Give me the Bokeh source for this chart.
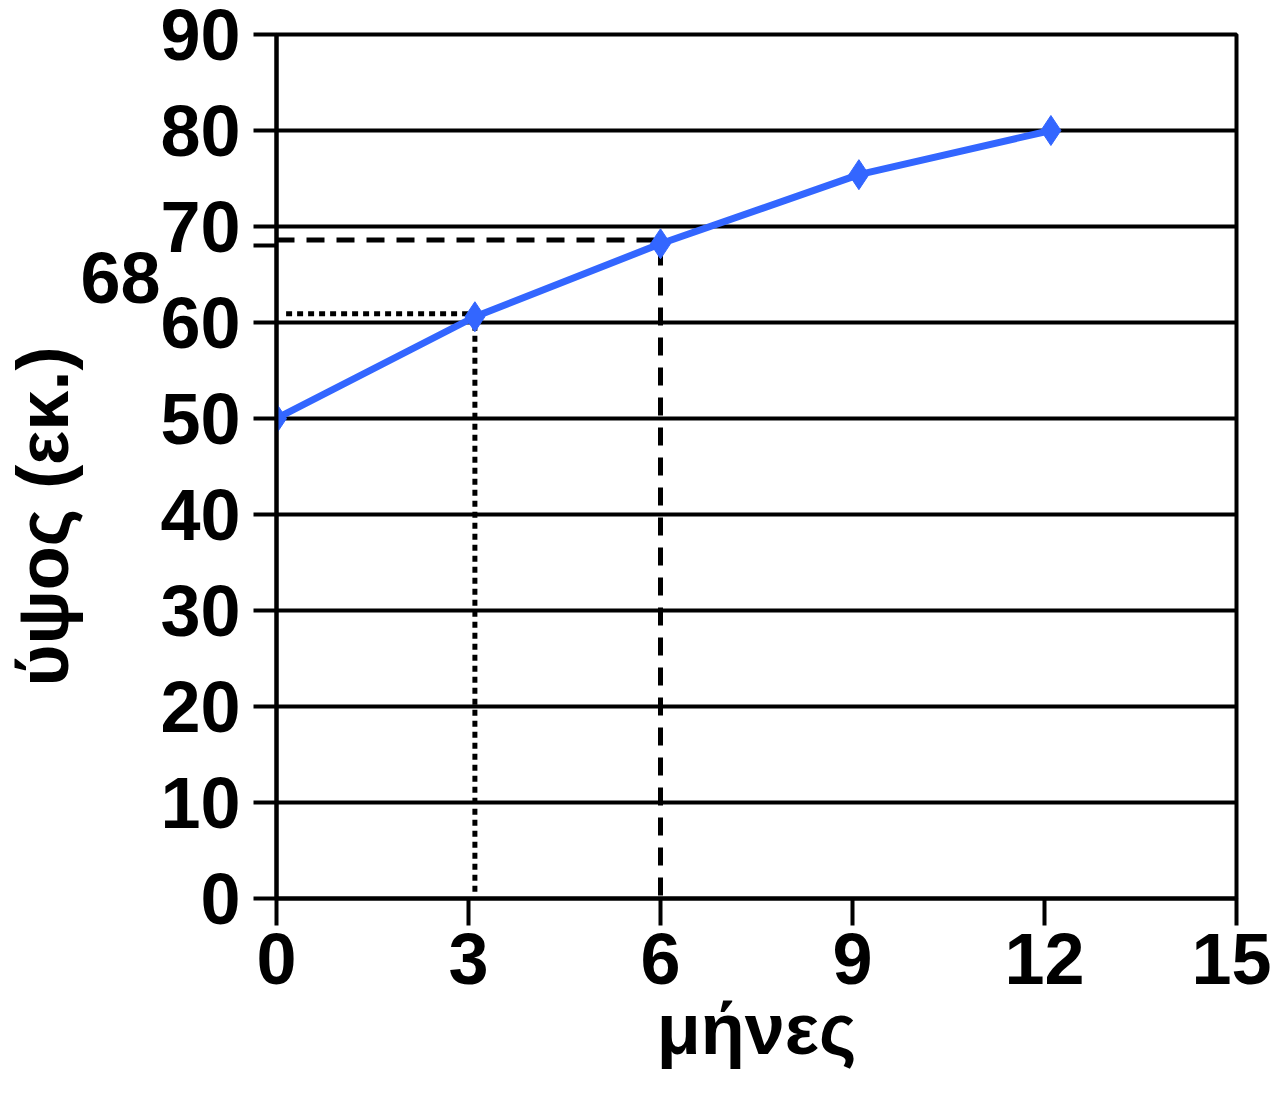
from bokeh.plotting import figure
from bokeh.models import Range1d, FixedTicker, ColumnDataSource
from bokeh.embed import file_html
from bokeh.resources import INLINE

# Data
months = [0, 3.1, 6, 9.1, 12.1]
height_cm = [50, 60.6, 68.2, 75.4, 80]
x_ticks = [0, 3, 6, 9, 12, 15]
y_ticks = [0, 10, 20, 30, 40, 50, 60, 70, 80, 90]
dash_x, dash_y = 6, 68.6      # dashed guide to 68
dot_x, dot_y = 3.1, 60.9      # dotted guide
note_value = 68               # value called out on the y axis
note_text = "68"

FONT = "Liberation Sans"
NBSP = "\u00a0"

p = figure(width=1271, height=1096,
           x_range=Range1d(0, 15), y_range=Range1d(0, 90),
           output_backend="svg", toolbar_location=None,
           min_border_left=275, min_border_top=34, min_border_right=35, min_border_bottom=198)
p.background_fill_color = "white"
p.border_fill_color = "white"
p.outline_line_color = "black"
p.outline_line_width = 4
p.outline_line_alpha = 1

p.xgrid.visible = False
p.ygrid.ticker = FixedTicker(ticks=y_ticks)
p.ygrid.grid_line_color = "black"
p.ygrid.grid_line_width = 4

p.xaxis.ticker = FixedTicker(ticks=x_ticks)
# the y axis also carries the "68" call-out, set off to the lower left of its tick
p.yaxis.ticker = FixedTicker(ticks=y_ticks + [note_value])
p.yaxis.major_label_overrides = {note_value: NBSP + "\n" + note_text + NBSP * 4}
for ax in (p.xaxis[0], p.yaxis[0]):
    ax.axis_line_color = "black"
    ax.axis_line_width = 4
    ax.major_tick_line_color = "black"
    ax.major_tick_line_width = 4
    ax.major_tick_in = 0
    ax.minor_tick_line_color = None
    ax.major_label_text_font = FONT
    ax.major_label_text_font_style = "bold"
    ax.major_label_text_font_size = "72px"
    ax.major_label_text_color = "black"
    ax.axis_label_text_font = FONT
    ax.axis_label_text_font_style = "bold"
    ax.axis_label_text_font_size = "72px"
    ax.axis_label_text_color = "black"

p.yaxis.major_label_text_line_height = 0.8
p.xaxis.major_tick_out = 27
p.yaxis.major_tick_out = 23
p.xaxis.major_label_standoff = 8
p.yaxis.major_label_standoff = 13
p.xaxis.axis_label = "μήνες"
p.yaxis.axis_label = "ύψος (εκ.)" + NBSP * 5
p.xaxis.axis_label_standoff = 2
p.yaxis.axis_label_standoff = -6

# guide lines
p.line([0, dash_x - 0.1], [dash_y, dash_y], line_color="black", line_width=5, line_dash="18 12")
p.line([dash_x, dash_x], [dash_y - 0.8, 0], line_color="black", line_width=5, line_dash="18 12")
p.line([0.15, dot_x], [dot_y, dot_y], line_color="black", line_width=5, line_dash="6 5")
p.line([dot_x, dot_x], [dot_y, 0.3], line_color="black", line_width=5, line_dash="6 5")

src = ColumnDataSource(dict(x=months, y=height_cm))
p.line("x", "y", source=src, line_color="#3366FF", line_width=7)
p.scatter("x", "y", source=src, marker="diamond", size=30, fill_color="#3366FF", line_color="#3366FF")

open("out.html", "w").write(file_html(p, INLINE))
